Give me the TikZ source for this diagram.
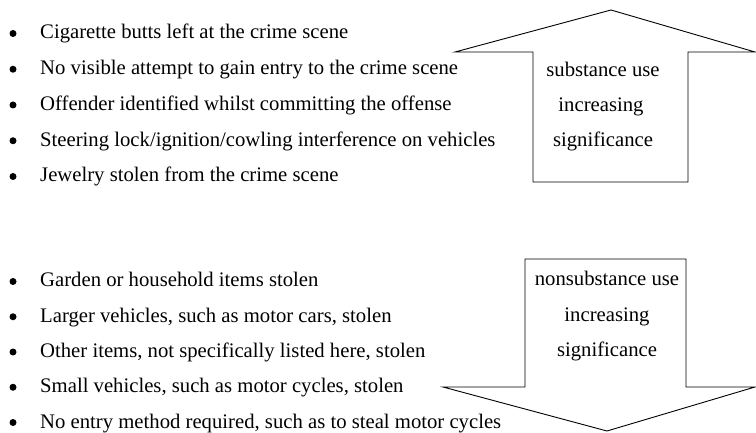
\documentclass[tikz,border=0pt]{standalone}
\usepackage{fontspec}
\setmainfont{Liberation Serif}
\begin{document}
\begin{tikzpicture}[x=1pt,y=-1pt,
  item/.style={anchor=base west,inner sep=0pt,font=\fontsize{20.7}{24}\selectfont},
  lbl/.style={anchor=base,inner sep=0pt,font=\fontsize{20.7}{24}\selectfont},
  dot/.style={circle,fill=black,inner sep=0pt,minimum size=7pt},
  arrowline/.style={draw=black,line width=0.9pt,line join=miter}]
\useasboundingbox (0,0) rectangle (756,433);
% top list
\foreach \t [count=\i] in {Cigarette butts left at the crime scene,
  No visible attempt to gain entry to the crime scene,
  Offender identified whilst committing the offense,
  Steering lock/ignition/cowling interference on vehicles,
  Jewelry stolen from the crime scene}{
  \node[item] (t\i) at (40,{39+35.75*(\i-1)}) {\t};
  \node[dot] (tb\i) at (13,{33.5+35.75*(\i-1)}) {};
}
% bottom list
\foreach \t [count=\i] in {Garden or household items stolen,
  {Larger vehicles, such as motor cars, stolen},
  {Other items, not specifically listed here, stolen},
  {Small vehicles, such as motor cycles, stolen},
  {No entry method required, such as to steal motor cycles}}{
  \node[item] (b\i) at (40,{287+35.25*(\i-1)}) {\t};
  \node[dot] (bb\i) at (13,{281.5+35.25*(\i-1)}) {};
}
% up arrow
\coordinate (ut) at (611,10);
\draw[arrowline] (533,182) -- (533,52) -- (455,52) -- (ut) -- (755,52) -- (688,52) -- (688,182) -- cycle;
\node[lbl] (u1) at (603,77) {substance use};
\node[lbl] (u2) at (601,112) {increasing};
\node[lbl] (u3) at (603,147) {significance};
% down arrow
\coordinate (dt) at (607,431);
\draw[arrowline] (525,259) -- (525,387) -- (443,387) -- (dt) -- (755,387) -- (686,387) -- (686,259) -- cycle;
\node[lbl] (d1) at (607,285) {nonsubstance use};
\node[lbl] (d2) at (607,321) {increasing};
\node[lbl] (d3) at (607,356) {significance};
\end{tikzpicture}
\end{document}
